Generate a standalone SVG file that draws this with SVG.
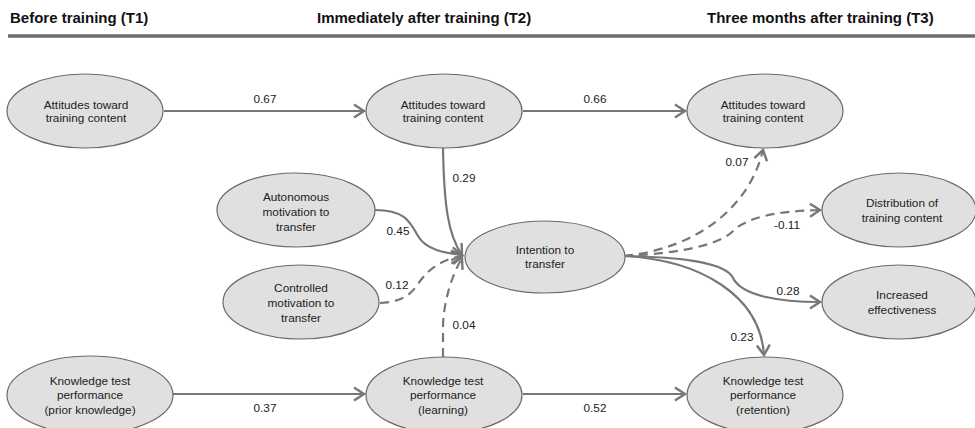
<svg xmlns="http://www.w3.org/2000/svg" width="975" height="428" viewBox="0 0 975 428">
<style>
.hdr{font-family:"Liberation Sans",Arial,sans-serif;font-size:15px;font-weight:bold;fill:#111}
.nt{font-family:"Liberation Sans",Arial,sans-serif;font-size:11.8px;fill:#222;text-anchor:middle}
.lb{font-family:"Liberation Sans",Arial,sans-serif;font-size:11.8px;fill:#222;text-anchor:middle}
.node ellipse{fill:#e0e0e0;stroke:#6a6a6a;stroke-width:1.2}
.e{fill:none;stroke:#777;stroke-width:2.2;marker-end:url(#arr)}
.d{stroke-dasharray:9 6}
</style>
<defs>
<marker id="arr" markerUnits="userSpaceOnUse" markerWidth="16" markerHeight="16" viewBox="-12 -8 14 16" refX="0" refY="0" orient="auto">
<path d="M-10,-6.5 L0,0 L-10,6.5" fill="none" stroke="#777" stroke-width="2.4" stroke-linejoin="miter"/>
</marker>
</defs>
<rect width="975" height="428" fill="#fff"/>
<g id="header">
<text class="hdr" x="10" y="23">Before training (T1)</text>
<text class="hdr" x="317" y="23">Immediately after training (T2)</text>
<text class="hdr" x="707" y="23">Three months after training (T3)</text>
<line x1="8" y1="36" x2="975" y2="36" stroke="#6e6e6e" stroke-width="3.5"/>
</g>
<g id="connectors">
<path class="e" d="M164,111 L364,111"/>
<path class="e" d="M523,111 L685,111"/>
<path class="e" d="M173,394 L364,394"/>
<path class="e" d="M523,394 L685,394"/>
<path class="e" d="M443,148 C444,205 448,235 462,255"/>
<path class="e" d="M375,210 C405,210 410,222 418,236 C426,250 445,253 462,255"/>
<path class="e d" d="M380,303 C400,302 410,296 418,284 C430,266 445,259 462,256"/>
<path class="e d" d="M443,357 L443,325 C444,300 452,275 462,258"/>
<path class="e d" d="M624,256 C700,248 750,205 763,150"/>
<path class="e d" d="M624,256 C665,254 715,248 732,232 C745,218 775,211 820,210"/>
<path class="e" d="M624,256 C680,257 725,262 733,278 C742,296 780,302 820,302"/>
<path class="e" d="M624,256 C700,260 760,295 764,355"/>
</g>
<g id="labels">
<text class="lb" x="265" y="103">0.67</text>
<text class="lb" x="595" y="103">0.66</text>
<text class="lb" x="464" y="182">0.29</text>
<text class="lb" x="398" y="235">0.45</text>
<text class="lb" x="397" y="289">0.12</text>
<text class="lb" x="464" y="329">0.04</text>
<text class="lb" x="737" y="166">0.07</text>
<text class="lb" x="787" y="229">-0.11</text>
<text class="lb" x="788" y="295">0.28</text>
<text class="lb" x="742" y="341">0.23</text>
<text class="lb" x="265" y="412">0.37</text>
<text class="lb" x="595" y="412">0.52</text>
</g>
<g id="att1" class="node"><ellipse cx="85" cy="111" rx="78" ry="37"/><text class="nt" x="86" y="109">Attitudes toward</text><text class="nt" x="86" y="122">training content</text></g>
<g id="att2" class="node"><ellipse cx="444" cy="111" rx="78" ry="37"/><text class="nt" x="443" y="109">Attitudes toward</text><text class="nt" x="443" y="122">training content</text></g>
<g id="att3" class="node"><ellipse cx="765" cy="111" rx="78" ry="37"/><text class="nt" x="763" y="109">Attitudes toward</text><text class="nt" x="763" y="122">training content</text></g>
<g id="auto" class="node"><ellipse cx="296" cy="210" rx="79" ry="37"/><text class="nt" x="296" y="201">Autonomous</text><text class="nt" x="296" y="216">motivation to</text><text class="nt" x="296" y="231">transfer</text></g>
<g id="ctrl" class="node"><ellipse cx="301" cy="302" rx="78" ry="37"/><text class="nt" x="301" y="292">Controlled</text><text class="nt" x="301" y="307">motivation to</text><text class="nt" x="301" y="322">transfer</text></g>
<g id="intent" class="node"><ellipse cx="545" cy="257" rx="80" ry="36"/><text class="nt" x="545" y="254">Intention to</text><text class="nt" x="545" y="268">transfer</text></g>
<g id="distr" class="node"><ellipse cx="899" cy="210" rx="77" ry="37"/><text class="nt" x="902" y="207">Distribution of</text><text class="nt" x="902" y="222">training content</text></g>
<g id="incr" class="node"><ellipse cx="899" cy="302" rx="77" ry="37"/><text class="nt" x="902" y="299">Increased</text><text class="nt" x="902" y="314">effectiveness</text></g>
<g id="know1" class="node"><ellipse cx="90" cy="395" rx="83" ry="39"/><text class="nt" x="90" y="385">Knowledge test</text><text class="nt" x="90" y="399">performance</text><text class="nt" x="90" y="414">(prior knowledge)</text></g>
<g id="know2" class="node"><ellipse cx="444" cy="395" rx="78" ry="38"/><text class="nt" x="443" y="385">Knowledge test</text><text class="nt" x="443" y="399">performance</text><text class="nt" x="443" y="414">(learning)</text></g>
<g id="know3" class="node"><ellipse cx="765" cy="395" rx="78" ry="38"/><text class="nt" x="763" y="385">Knowledge test</text><text class="nt" x="763" y="399">performance</text><text class="nt" x="763" y="414">(retention)</text></g>
</svg>
